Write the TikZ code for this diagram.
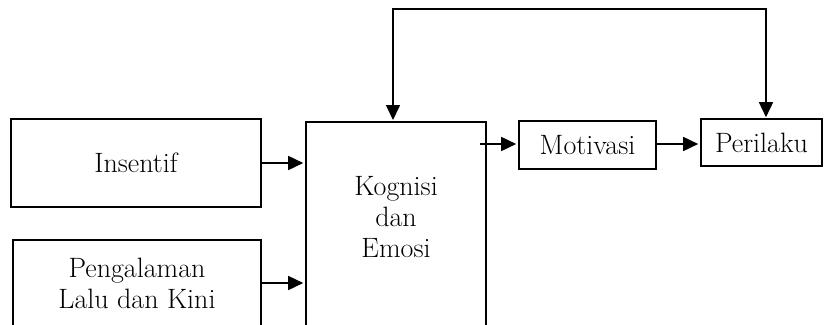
\documentclass[tikz,border=0pt]{standalone}
\usetikzlibrary{arrows.meta,calc}
\begin{document}
\begin{tikzpicture}[x=1pt,y=-1pt,
  box/.style={draw=black, line width=1.6pt, inner sep=0pt, align=center, font=\fontsize{28}{31}\selectfont},
  lbl/.style={inner sep=0pt, align=center, font=\fontsize{28}{31}\selectfont},
  arr/.style={line width=1.6pt, shorten >=2pt, -{Triangle[length=15pt,width=14pt]}},
  arr2/.style={line width=1.6pt, shorten >=1pt, shorten <=1pt, {Triangle[length=15pt,width=14pt]}-{Triangle[length=15pt,width=14pt]}}]
\useasboundingbox (0,0) rectangle (838,324);
\begin{scope}
\clip (0,0) rectangle (838,324);
\node[box, minimum width=250pt, minimum height=88pt] (ins) at (136,163) {Insentif};
\node[box, minimum width=248pt, minimum height=86pt] (pen) at (137,283) {Pengalaman\\Lalu dan Kini};
\node[box, minimum width=180pt, minimum height=220pt, anchor=north] (kog) at (396,121) {};
\node[lbl] (kogt) at (396,217) {Kognisi\\dan\\Emosi};
\node[box, minimum width=137pt, minimum height=48pt] (mot) at (587.5,145) {Motivasi};
\node[box, minimum width=121pt, minimum height=47pt] (per) at (761.5,142.5) {Perilaku};
\coordinate (fbL) at (393,9);
\coordinate (fbR) at (766,9);
\draw[arr] (ins.east) -- (ins.east -| kog.west);
\draw[arr] (pen.east) -- (pen.east -| kog.west);
\draw[arr] ($(mot.west -| kog.east)+(-7,-1)$) -- ($(mot.west)+(0,-1)$);
\draw[arr] ($(mot.east)+(0,-1)$) -- ($(mot.east -| per.west)+(0,-1)$);
\draw[arr2] (kog.north -| fbL) -- (fbL) -- (fbR) -- (per.north -| fbR);
\end{scope}
\end{tikzpicture}
\end{document}
